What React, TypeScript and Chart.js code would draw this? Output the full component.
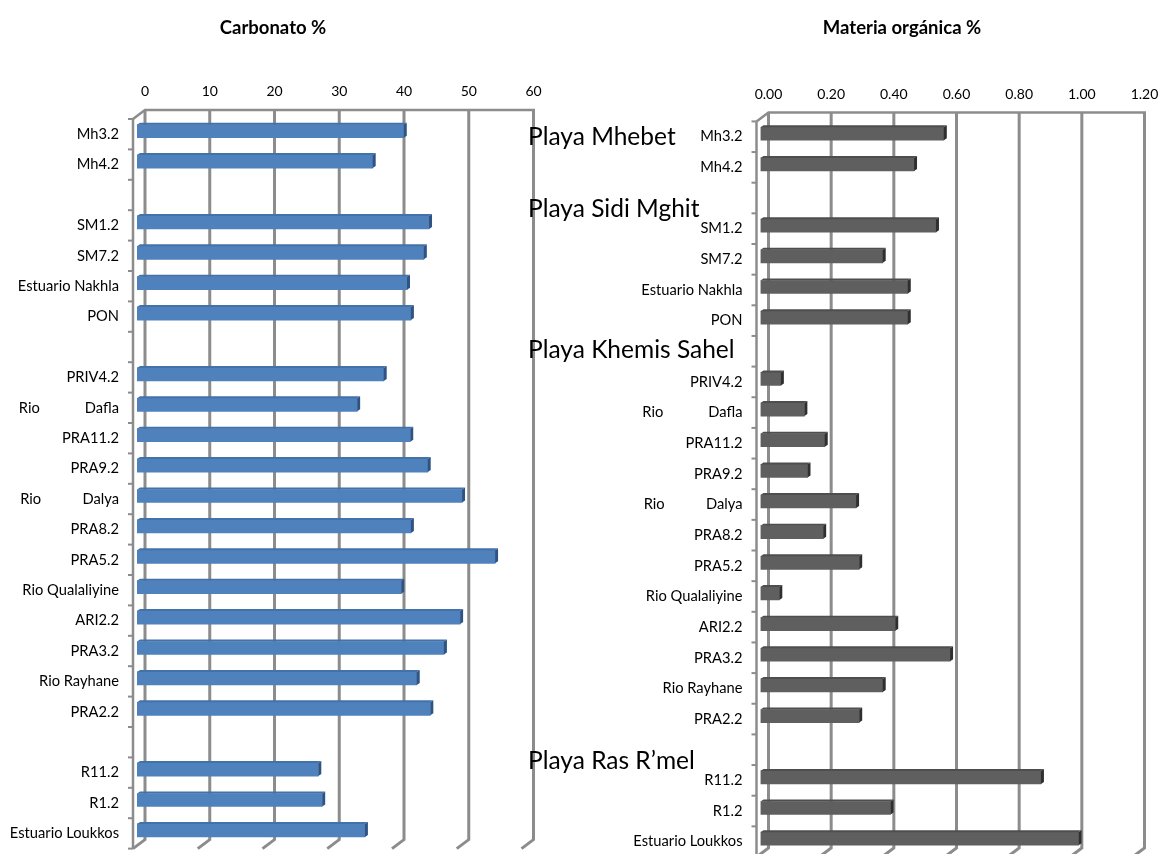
import React, { useEffect, useRef } from 'react';
import { Chart, registerables } from 'chart.js';

Chart.register(...registerables);

// ---------- data ----------
const categories: string[] = [
  'Mh3.2', 'Mh4.2', '',
  'SM1.2', 'SM7.2', 'Estuario Nakhla', 'PON', '',
  'PRIV4.2', 'Rio            Dafla', 'PRA11.2', 'PRA9.2', 'Rio           Dalya',
  'PRA8.2', 'PRA5.2', 'Rio Qualaliyine', 'ARI2.2', 'PRA3.2', 'Rio Rayhane', 'PRA2.2', '',
  'R11.2', 'R1.2', 'Estuario Loukkos',
];

const carbonato: (number | null)[] = [
  41.2, 36.4, null,
  45.1, 44.3, 41.7, 42.3, null,
  38.1, 34.0, 42.2, 44.9, 50.2,
  42.3, 55.3, 40.8, 49.9, 47.4, 43.2, 45.3, null,
  28.0, 28.6, 35.2,
];

const materiaOrganica: (number | null)[] = [
  0.585, 0.49, null,
  0.56, 0.39, 0.47, 0.47, null,
  0.065, 0.14, 0.205, 0.15, 0.305,
  0.20, 0.315, 0.06, 0.43, 0.605, 0.39, 0.315, null,
  0.895, 0.415, 1.015,
];

const carbonatoTicks = { min: 0, max: 60, step: 10, decimals: 0 };
const materiaTicks = { min: 0, max: 1.2, step: 0.2, decimals: 2 };

const groupNames: string[] = ['Playa Mhebet', 'Playa Sidi Mghit', 'Playa Khemis Sahel', 'Playa Ras R\u2019mel'];
const groupRows: number[] = [0.1, 2.45, 7.05, 20.45];

const titles = ['Carbonato %', 'Materia org\u00e1nica %'];

// ---------- styling ----------
const FONT = 'Lato, "Open Sans", sans-serif';
const GRID = '#8c8c8c';
const BACK = { dx: 8, dy: -6 };
const FRONT = { dx: -4, dy: 3 };

type Spec = {
  title: string;
  titleX: number;
  data: (number | null)[];
  ticks: { min: number; max: number; step: number; decimals: number };
  colors: { front: string; top: string; side: string };
  yAxisW: number;
  pad: { left: number; right: number; top: number; bottom: number };
  groups: boolean;
};

function buildConfig(spec: Spec): any {
  const decorPlugin = {
    id: 'decor3d',
    beforeDatasetsDraw(chart: any) {
      const { ctx, chartArea: a, scales } = chart;
      const x = scales.x;
      const y = scales.y;
      const backTop = a.top + BACK.dy;
      const backBot = a.bottom + BACK.dy;
      const frontTop = a.top + FRONT.dy;
      const frontBot = a.bottom + FRONT.dy;
      const frontLeft = a.left + FRONT.dx;
      ctx.save();
      ctx.strokeStyle = GRID;
      ctx.lineCap = 'butt';
      ctx.lineJoin = 'miter';
      // back wall top edge
      ctx.lineWidth = 2.5;
      ctx.beginPath();
      ctx.moveTo(frontLeft, frontTop);
      ctx.lineTo(a.left + BACK.dx, backTop);
      ctx.lineTo(x.getPixelForValue(spec.ticks.max) + BACK.dx + 1.5, backTop);
      ctx.stroke();
      // vertical gridlines on the back wall + floor diagonals
      ctx.lineWidth = 3;
      x.ticks.forEach((t: any) => {
        const px = x.getPixelForValue(t.value);
        ctx.beginPath();
        ctx.moveTo(px + BACK.dx, backTop);
        ctx.lineTo(px + BACK.dx, backBot);
        ctx.lineTo(px + FRONT.dx, frontBot);
        ctx.stroke();
      });
      // category axis at the front
      ctx.lineWidth = 2.5;
      ctx.beginPath();
      ctx.moveTo(frontLeft, frontTop);
      ctx.lineTo(frontLeft, frontBot);
      ctx.stroke();
      ctx.lineWidth = 2;
      for (let i = 0; i <= categories.length; i++) {
        const yy = y.getPixelForValue(i - 0.5) + FRONT.dy;
        ctx.beginPath();
        ctx.moveTo(frontLeft - 5, yy);
        ctx.lineTo(frontLeft, yy);
        ctx.stroke();
      }
      ctx.restore();
    },
    afterDatasetsDraw(chart: any) {
      const { ctx } = chart;
      const meta = chart.getDatasetMeta(0);
      ctx.save();
      meta.data.forEach((bar: any, i: number) => {
        if (spec.data[i] == null) return;
        const p = bar.getProps(['x', 'y', 'base', 'height'], true);
        const t = p.y - p.height / 2;
        const b = p.y + p.height / 2;
        const d = 3;
        const e = 2;
        ctx.fillStyle = spec.colors.top;
        ctx.beginPath();
        ctx.moveTo(p.base, t);
        ctx.lineTo(p.base + d, t - e);
        ctx.lineTo(p.x + d, t - e);
        ctx.lineTo(p.x, t);
        ctx.closePath();
        ctx.fill();
        ctx.fillStyle = spec.colors.side;
        ctx.beginPath();
        ctx.moveTo(p.x, t);
        ctx.lineTo(p.x + d, t - e);
        ctx.lineTo(p.x + d, b - e);
        ctx.lineTo(p.x, b);
        ctx.closePath();
        ctx.fill();
      });
      ctx.restore();
    },
    afterDraw(chart: any) {
      const { ctx } = chart;
      ctx.save();
      ctx.fillStyle = '#000';
      ctx.textAlign = 'center';
      ctx.textBaseline = 'middle';
      ctx.font = `bold 18.5px ${FONT}`;
      ctx.fillText(spec.title, spec.titleX, 28);
      if (spec.groups) {
        const y = chart.scales.y;
        ctx.textAlign = 'left';
        ctx.textBaseline = 'alphabetic';
        ctx.font = `24.5px ${FONT}`;
        groupNames.forEach((g, i) => {
          ctx.fillText(g, 8, y.getPixelForValue(groupRows[i]) + 8);
        });
      }
      ctx.restore();
    },
  };

  const xAxisH = 40;
  return {
    type: 'bar',
    data: {
      labels: categories,
      datasets: [
        {
          data: spec.data,
          backgroundColor: spec.colors.front,
          borderWidth: 0,
          barThickness: 13,
        },
      ],
    },
    options: {
      indexAxis: 'y',
      responsive: false,
      animation: false,
      layout: { padding: spec.pad },
      plugins: { legend: { display: false }, tooltip: { enabled: false }, title: { display: false } },
      scales: {
        x: {
          position: 'top',
          min: spec.ticks.min,
          max: spec.ticks.max,
          grid: { display: false, drawTicks: false },
          border: { display: false },
          ticks: {
            stepSize: spec.ticks.step,
            labelOffset: BACK.dx,
            padding: 16,
            color: '#000',
            maxRotation: 0,
            autoSkip: false,
            font: { family: FONT, size: 14 },
            callback: (v: any) => Number(v).toFixed(spec.ticks.decimals),
          },
          afterFit: (s: any) => {
            s.height = xAxisH;
            s.paddingLeft = 0;
            s.paddingRight = 0;
          },
        },
        y: {
          type: 'category',
          grid: { display: false, drawTicks: false },
          border: { display: false },
          ticks: {
            padding: 18,
            labelOffset: FRONT.dy,
            color: '#000',
            autoSkip: false,
            font: { family: FONT, size: 14.7 },
          },
          afterFit: (s: any) => {
            s.width = spec.yAxisW;
            s.paddingTop = 0;
            s.paddingBottom = 0;
          },
        },
      },
    },
    plugins: [decorPlugin],
  };
}

export default function App() {
  const leftRef = useRef<HTMLCanvasElement>(null);
  const rightRef = useRef<HTMLCanvasElement>(null);

  useEffect(() => {
    const left = new Chart(
      leftRef.current as HTMLCanvasElement,
      buildConfig({
        title: titles[0],
        titleX: 273,
        data: carbonato,
        ticks: carbonatoTicks,
        colors: { front: '#4f81bd', top: '#4372aa', side: '#2f5483' },
        yAxisW: 137,
        pad: { left: 0, right: 20.5, top: 76, bottom: 8.4 },
        groups: false,
      })
    );
    const right = new Chart(
      rightRef.current as HTMLCanvasElement,
      buildConfig({
        title: titles[1],
        titleX: 382,
        data: materiaOrganica,
        ticks: materiaTicks,
        colors: { front: '#5f5f5f', top: '#4e4e4e', side: '#2f2f2f' },
        yAxisW: 240.5,
        pad: { left: 0, right: 24.5, top: 78.4, bottom: 0 },
        groups: true,
      })
    );
    return () => {
      left.destroy();
      right.destroy();
    };
  }, []);

  return (
    <div style={{ position: 'fixed', left: 0, top: 0, width: 1161, height: 854, background: '#fff', overflow: 'hidden' }}>
      <canvas ref={leftRef} width={546} height={854} style={{ position: 'absolute', left: 0, top: 0 }} />
      <canvas ref={rightRef} width={641} height={854} style={{ position: 'absolute', left: 520, top: 0 }} />
    </div>
  );
}
